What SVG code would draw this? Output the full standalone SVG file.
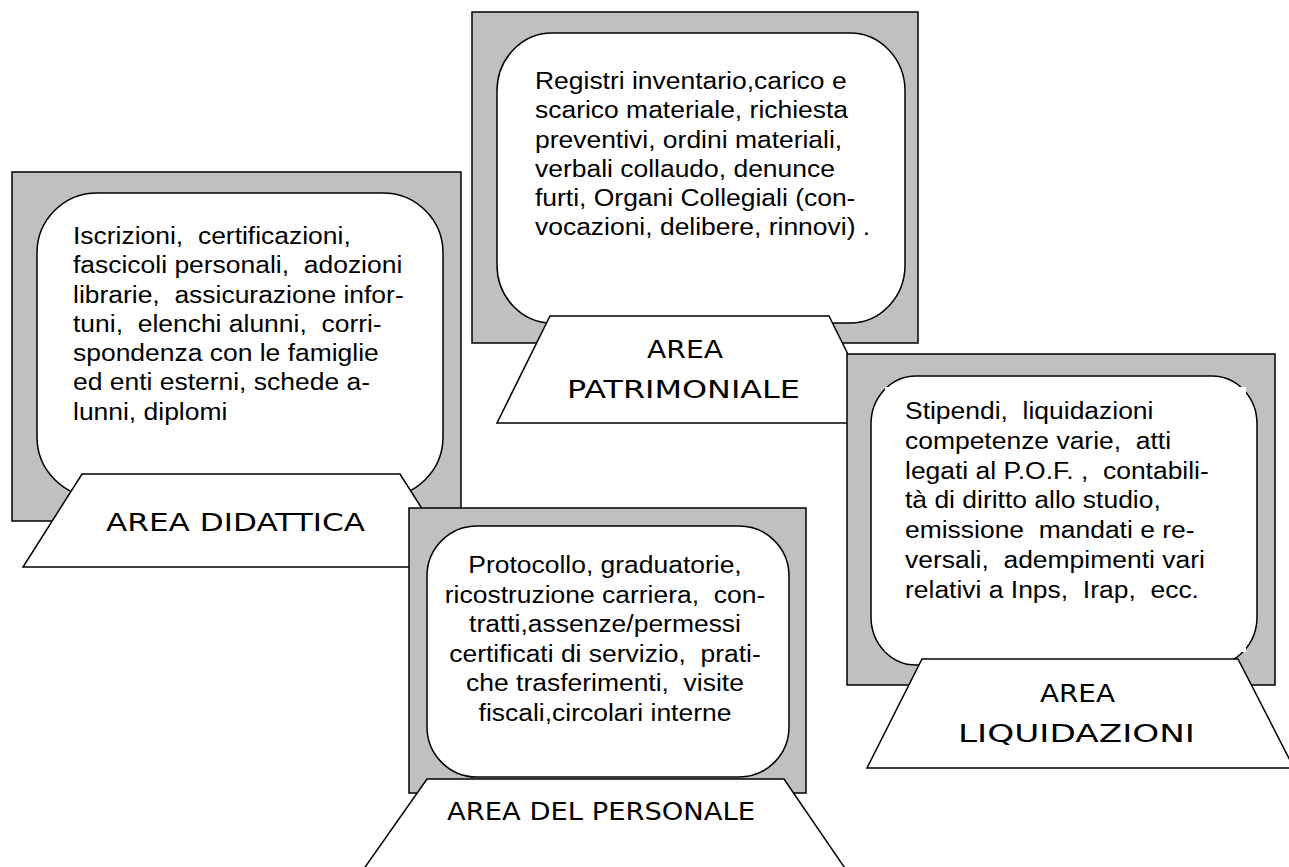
<svg xmlns="http://www.w3.org/2000/svg" width="1289" height="867" viewBox="0 0 1289 867">
<style>
.frame{fill:#c0c0c0;stroke:#000;stroke-width:1.5}
.screen{fill:#fff;stroke:#000;stroke-width:1.5}
.base{fill:#fff;stroke:#000;stroke-width:1.5;stroke-linejoin:miter}
.body{font-family:"Liberation Sans",Arial,sans-serif;font-size:24.5px;fill:#000;white-space:pre}
.lbl{font-family:"DejaVu Sans","Noto Sans",sans-serif;font-size:25px;fill:#000}
</style>
<rect width="1289" height="867" fill="#fff"/>
<g id="area-didattica">
<rect class="frame" x="12" y="172" width="449" height="349"/>
<rect class="screen" x="37" y="193" width="406" height="304" rx="60" ry="60"/>
<g class="body" transform="translate(73 0) scale(1.08 1)">
<text x="0" y="244" xml:space="preserve">Iscrizioni,  certificazioni,</text>
<text x="0" y="273.3" xml:space="preserve">fascicoli personali,  adozioni</text>
<text x="0" y="302.6" xml:space="preserve">librarie,  assicurazione infor-</text>
<text x="0" y="332" xml:space="preserve">tuni,  elenchi alunni,  corri-</text>
<text x="0" y="361.2" xml:space="preserve">spondenza con le famiglie</text>
<text x="0" y="390.5" xml:space="preserve">ed enti esterni, schede a-</text>
<text x="0" y="420" xml:space="preserve">lunni, diplomi</text>
</g>
<polygon class="base" points="82,474 400,474 459,567 23,567"/>
<text class="lbl" x="106" y="531" textLength="259" lengthAdjust="spacingAndGlyphs">AREA DIDATTICA</text>
</g>
<g id="area-patrimoniale">
<rect class="frame" x="472" y="12" width="446" height="331"/>
<rect class="screen" x="497" y="33" width="408" height="290" rx="55" ry="58"/>
<g class="body" transform="translate(535 0) scale(1.08 1)">
<text x="0" y="89" xml:space="preserve">Registri inventario,carico e</text>
<text x="0" y="118.3" xml:space="preserve">scarico materiale, richiesta</text>
<text x="0" y="147.6" xml:space="preserve">preventivi, ordini materiali,</text>
<text x="0" y="177" xml:space="preserve">verbali collaudo, denunce</text>
<text x="0" y="206.2" xml:space="preserve">furti, Organi Collegiali (con-</text>
<text x="0" y="235.5" xml:space="preserve">vocazioni, delibere, rinnovi) .</text>
</g>
<polygon class="base" points="550,316 829,316 882,423 497,423"/>
<text class="lbl" x="647" y="358" textLength="76" lengthAdjust="spacingAndGlyphs">AREA</text>
<text class="lbl" x="567" y="398" textLength="233" lengthAdjust="spacingAndGlyphs">PATRIMONIALE</text>
</g>
<g id="area-liquidazioni">
<rect class="frame" x="847" y="354" width="428" height="331"/>
<rect class="screen" x="871" y="376" width="386" height="289" rx="45" ry="48"/>
<rect x="885" y="387" width="361" height="265" fill="#fff"/>
<g class="body" transform="translate(905 0) scale(1.08 1)">
<text x="0" y="419" xml:space="preserve">Stipendi,  liquidazioni</text>
<text x="0" y="448.8" xml:space="preserve">competenze varie,  atti</text>
<text x="0" y="478.6" xml:space="preserve">legati al P.O.F. ,  contabili-</text>
<text x="0" y="508.4" xml:space="preserve">tà di diritto allo studio,</text>
<text x="0" y="538.2" xml:space="preserve">emissione  mandati e re-</text>
<text x="0" y="568" xml:space="preserve">versali,  adempimenti vari</text>
<text x="0" y="597.8" xml:space="preserve">relativi a Inps,  Irap,  ecc.</text>
</g>
<polygon class="base" points="922,659 1238,659 1294,768 867,768"/>
<text class="lbl" x="1040" y="702" textLength="75" lengthAdjust="spacingAndGlyphs">AREA</text>
<text class="lbl" x="958" y="742" textLength="237" lengthAdjust="spacingAndGlyphs">LIQUIDAZIONI</text>
</g>
<g id="area-personale">
<rect class="frame" x="409" y="508" width="397" height="285"/>
<rect class="screen" x="427" y="526" width="362" height="251" rx="50" ry="50"/>
<g class="body" text-anchor="middle" transform="translate(605 0) scale(1.08 1)">
<text x="0" y="573" xml:space="preserve">Protocollo, graduatorie,</text>
<text x="0" y="602.6" xml:space="preserve">ricostruzione carriera,  con-</text>
<text x="0" y="632.2" xml:space="preserve">tratti,assenze/permessi</text>
<text x="0" y="661.8" xml:space="preserve">certificati di servizio,  prati-</text>
<text x="0" y="691.4" xml:space="preserve">che trasferimenti,  visite</text>
<text x="0" y="721" xml:space="preserve">fiscali,circolari interne</text>
</g>
<polygon class="base" points="427,779 784,779 853,880 356,880"/>
<text class="lbl" x="447" y="820" textLength="308" lengthAdjust="spacingAndGlyphs">AREA DEL PERSONALE</text>
</g>
<g id="connectors"/>
</svg>
